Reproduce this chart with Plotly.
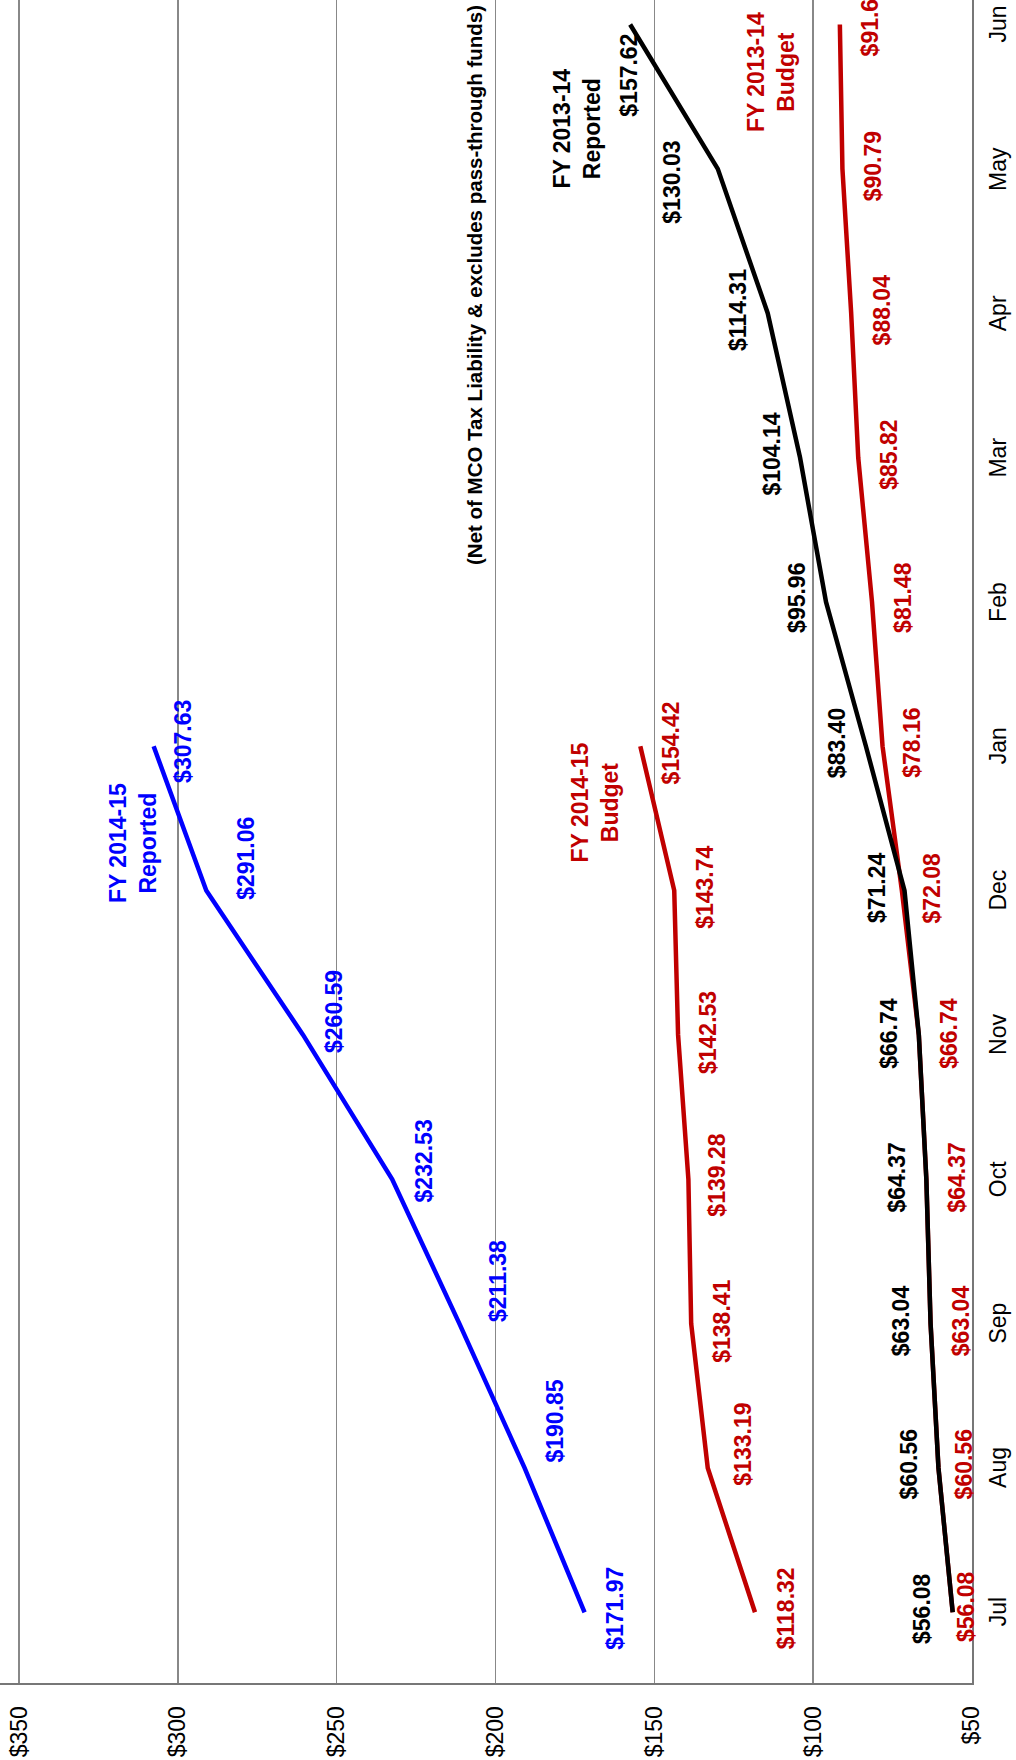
import plotly.graph_objects as go

# ---------------- data ----------------
months = ["Jul", "Aug", "Sep", "Oct", "Nov", "Dec", "Jan", "Feb", "Mar", "Apr", "May", "Jun"]
fy15_reported = [171.97, 190.85, 211.38, 232.53, 260.59, 291.06, 307.63]
fy15_budget = [118.32, 133.19, 138.41, 139.28, 142.53, 143.74, 154.42]
fy14_reported = [56.08, 60.56, 63.04, 64.37, 66.74, 71.24, 83.40, 95.96, 104.14, 114.31, 130.03, 157.62]
fy14_budget = [56.08, 60.56, 63.04, 64.37, 66.74, 72.08, 78.16, 81.48, 85.82, 88.04, 90.79, 91.60]
value_ticks = [50, 100, 150, 200, 250, 300, 350]
subtitle = "(Net of MCO Tax Liability & excludes pass-through funds)"

# ---------------- styling ----------------
FONT = "Liberation Sans, Arial, sans-serif"
BLUE = "#0000FF"
RED = "#C00000"
BLACK = "#000000"
GRID = "#888888"

# label offsets on screen (dx, dy) in pixels; dy positive = down
off_fy15_rep = [(31, -4), (30, -47), (38, -43), (32, -18), (31, -23), (39, -32), (30, -5)]
off_fy15_bud = [(31, -4), (35, -24), (30, -2), (29, -4), (30, -2), (30, -3), (31, -3)]
off_fy14_rep = [(-30, -4), (-30, -4), (-30, -3), (-29, -2), (-30, -2), (-28, -3), (-29, -3),
                (-29, -4), (-28, -3), (-30, -3), (-46, 13), (-2, 51)]
off_fy14_bud = [(14, -6), (25, -4), (30, -3), (31, -2), (30, -2), (30, -3), (30, -3),
                (31, -4), (30, -3), (31, -3), (30, -3), (30, -3)]

series = [
    ("FY 2013-14 Budget", fy14_budget, RED, 4.5, off_fy14_bud),
    ("FY 2013-14 Reported", fy14_reported, BLACK, 4.5, off_fy14_rep),
    ("FY 2014-15 Budget", fy15_budget, RED, 4.5, off_fy15_bud),
    ("FY 2014-15 Reported", fy15_reported, BLUE, 4.5, off_fy15_rep),
]

fig = go.Figure()
annotations = []
for name, vals, color, w, offs in series:
    idx = list(range(len(vals)))
    fig.add_trace(go.Scatter(x=vals, y=idx, mode="lines", name=name,
                             line=dict(color=color, width=w), hoverinfo="skip"))
    for i, v in enumerate(vals):
        dx, dy = offs[i]
        annotations.append(dict(
            x=v, y=i, xref="x", yref="y", text="<b>$%.2f</b>" % v,
            showarrow=False, textangle=-90, xshift=dx, yshift=-dy,
            font=dict(family=FONT, size=23, color=color),
            xanchor="center", yanchor="middle"))

# series name labels (data coordinates)
name_labels = [
    ("FY 2014-15<br>Reported", 314.1, 5.33, BLUE),
    ("FY 2014-15<br>Budget", 168.7, 5.61, RED),
    ("FY 2013-14<br>Reported", 174.3, 10.28, BLACK),
    ("FY 2013-14<br>Budget", 113.3, 10.67, RED),
]
for txt, xv, yv, col in name_labels:
    annotations.append(dict(
        x=xv, y=yv, xref="x", yref="y", text="<b>%s</b>" % txt,
        showarrow=False, textangle=-90, align="center",
        font=dict(family=FONT, size=23, color=col),
        xanchor="center", yanchor="middle"))

# month (category) labels beside the right-hand axis, rotated like the page
for i, m in enumerate(months):
    annotations.append(dict(
        x=1, y=i, xref="paper", yref="y", text=m,
        showarrow=False, textangle=-90, xshift=26,
        font=dict(family=FONT, size=23, color=BLACK),
        xanchor="center", yanchor="middle"))

# subtitle (rotated page, partly outside the picture)
annotations.append(dict(
    x=474 / 972, y=(1683 - 567) / 1683, xref="paper", yref="paper",
    text="<b>%s</b>" % subtitle, showarrow=False, textangle=-90,
    font=dict(family=FONT, size=20.5, color=BLACK),
    xanchor="center", yanchor="bottom"))

fig.update_layout(
    width=1016, height=1760,
    margin=dict(l=0, r=44, t=0, b=77),
    paper_bgcolor="white", plot_bgcolor="white",
    showlegend=False,
    annotations=annotations,
    xaxis=dict(
        range=[356.0, 50], tickvals=value_ticks,
        ticktext=["$%d" % t for t in value_ticks],
        tickangle=-90, ticks="", ticklabelstandoff=12,
        tickfont=dict(family=FONT, size=23, color=BLACK),
        showgrid=True, gridcolor=GRID, gridwidth=1.5,
        showline=True, linecolor="#777777", linewidth=2,
        zeroline=False,
    ),
    yaxis=dict(
        range=[-0.49, 11.17], tickvals=list(range(len(months))),
        showticklabels=False, side="right", ticks="",
        showgrid=False, showline=True, linecolor="#777777", linewidth=2,
        zeroline=False,
    ),
)

fig.write_html(
    "out.html",
    config={"displayModeBar": False, "staticPlot": True},
    post_script="document.body.style.margin='0px';document.body.style.overflow='hidden';",
)
